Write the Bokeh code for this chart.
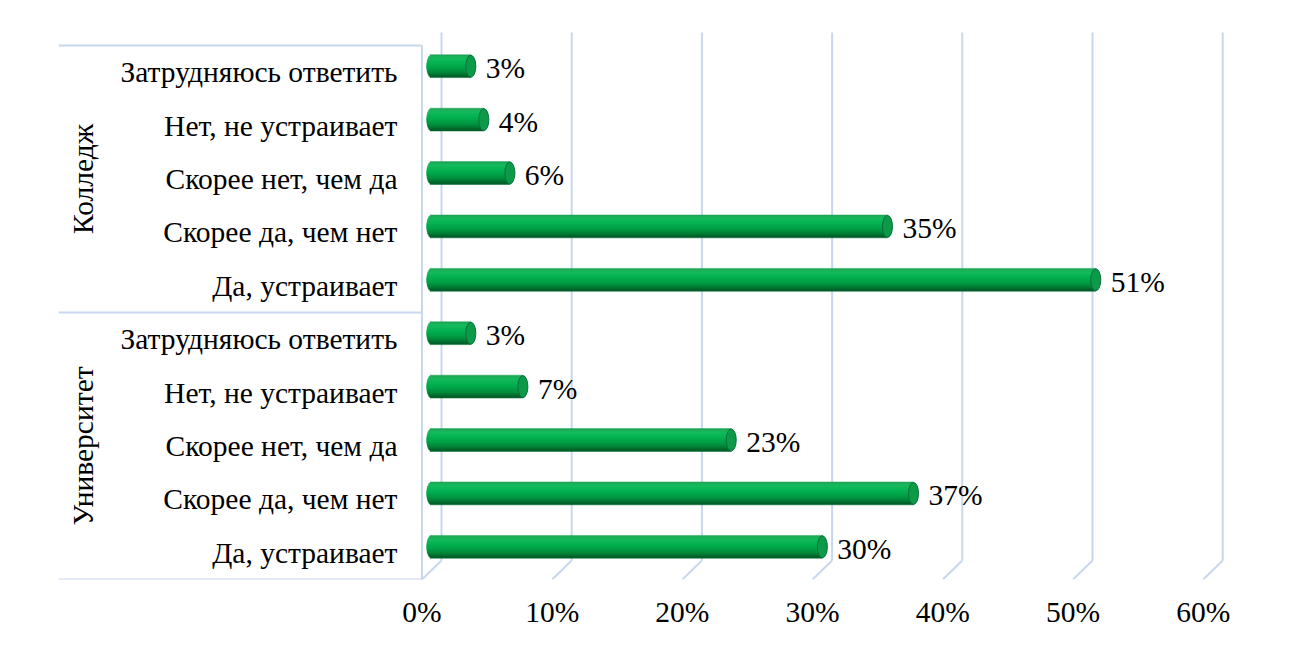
import math
from bokeh.plotting import figure
from bokeh.models import Range1d, FixedTicker, ColumnDataSource
from bokeh.core.properties import value
from bokeh.embed import file_html
from bokeh.resources import INLINE

# ---------------- data ----------------
groups = ["Университет", "Колледж"]          # bottom group first
categories = ["Да, устраивает", "Скорее да, чем нет", "Скорее нет, чем да",
              "Нет, не устраивает", "Затрудняюсь ответить"]   # bottom to top inside a group
university = [30, 37, 23, 7, 3]
college = [51, 35, 6, 4, 3]
tick_values = [0, 10, 20, 30, 40, 50, 60]
tick_labels = ["0%", "10%", "20%", "30%", "40%", "50%", "60%"]

# ---------------- layout constants ----------------
W, H = 1284, 641
LEFT_B, BOTTOM_B = 58, 62
PX_X = 13.02          # pixels per percent
PX_Y = 53.4           # pixels per category row
ZERO_PX = 363.5       # front-plane 0% from frame left, px
x_start = -ZERO_PX / PX_X
x_end = x_start + (W - LEFT_B) / PX_X
y_end = (H - BOTTOM_B) / PX_Y
DX = 19.5 / PX_X      # 3D depth in x units
DY = 19.0 / PX_Y      # 3D depth in y units
GRID_TOP = y_end - 32 / PX_Y
BAR_H = 22 / PX_Y
RX = 5 / PX_X
BAR_DY = 6 / PX_Y

FONT = "Liberation Serif"
FS = "29.5px"
GRID_C = "#c8d7ee"

p = figure(width=W, height=H, output_backend="svg", toolbar_location=None,
           x_range=Range1d(x_start, x_end), y_range=Range1d(0, y_end),
           y_axis_location=None, min_border_left=LEFT_B, min_border_right=0,
           min_border_top=0, min_border_bottom=BOTTOM_B)
p.outline_line_color = None
p.xgrid.visible = False
p.ygrid.visible = False
p.background_fill_color = "white"
p.border_fill_color = "white"

ax = p.xaxis[0]
ax.ticker = FixedTicker(ticks=tick_values)
ax.major_label_overrides = {v: l for v, l in zip(tick_values, tick_labels)}
ax.axis_line_color = None
ax.major_tick_line_color = None
ax.minor_tick_line_color = None
ax.major_tick_out = 0
ax.major_tick_in = 0
ax.major_label_standoff = 16
ax.major_label_text_font = FONT
ax.major_label_text_font_size = FS
ax.major_label_text_color = "black"

# ---------------- back wall grid (3D) ----------------
gx_v = [[t + DX, t + DX] for t in tick_values]
gy_v = [[DY, GRID_TOP] for t in tick_values]
gx_d = [[t + DX, t] for t in tick_values]
gy_d = [[DY, 0] for t in tick_values]
p.multi_line(gx_v + gx_d, gy_v + gy_d, line_color=GRID_C, line_width=2)

# ---------------- category frame lines ----------------
n = len(categories)
p.multi_line([[x_start, 0], [x_start, 0], [x_start, 0], [0, 0]],
             [[0, 0], [n, n], [2 * n, 2 * n], [0, 2 * n]],
             line_color=GRID_C, line_width=2)

# ---------------- bars (cylinders) ----------------
values = university + college
rows = [i + 0.5 for i in range(len(values))]

stops = [(-1.0, (0x22, 0xa0, 0x55)), (-0.65, (0x16, 0xbc, 0x5e)), (-0.2, (0x04, 0xb2, 0x52)),
         (0.3, (0x00, 0x9e, 0x46)), (0.7, (0x00, 0x80, 0x37)), (1.0, (0x00, 0x5a, 0x26))]


def grad(t):
    for (t0, c0), (t1, c1) in zip(stops[:-1], stops[1:]):
        if t <= t1:
            f = (t - t0) / (t1 - t0)
            c = [round(a + (b - a) * f) for a, b in zip(c0, c1)]
            return "#%02x%02x%02x" % tuple(c)
    return "#%02x%02x%02x" % stops[-1][1]


N = 16
ys, lefts, rights, hs, cols = [], [], [], [], []
for k in range(N):
    t = -1 + (2 * k + 1) / N
    for v, r in zip(values, rows):
        yc = r + BAR_DY
        ys.append(yc - t * BAR_H / 2)
        lefts.append(DX / 2 - RX * math.sqrt(max(0.0, 1 - t * t)))
        rights.append(v + DX / 2)
        hs.append(BAR_H / N * 1.6)
        cols.append(grad(t))
p.hbar(y="y", left="left", right="right", height="h", fill_color="c", line_color="c",
       line_width=0.5, source=ColumnDataSource(dict(y=ys, left=lefts, right=rights, h=hs, c=cols)))

cap_src = ColumnDataSource(dict(x=[v + DX / 2 for v in values], y=[r + BAR_DY for r in rows]))
p.ellipse(x="x", y="y", width=2 * RX, height=BAR_H, fill_color="#0c9a49",
          line_color="#06703a", line_width=1, source=cap_src)

# ---------------- data labels ----------------
lab_src = ColumnDataSource(dict(x=[v + DX / 2 for v in values], y=[r + BAR_DY for r in rows],
                                t=["%d%%" % v for v in values]))
p.text(x="x", y="y", text="t", source=lab_src, x_offset=15, y_offset=2, text_align="left",
       text_baseline="middle", text_font=value(FONT), text_font_size=FS, text_color="black")

# ---------------- category labels ----------------
cat_src = ColumnDataSource(dict(x=[-24.5 / PX_X] * len(rows), y=rows, t=categories * 2))
p.text(x="x", y="y", text="t", source=cat_src, text_align="right", text_baseline="middle",
       text_font=value(FONT), text_font_size=FS, text_color="black")

# ---------------- group labels ----------------
grp_src = ColumnDataSource(dict(x=[x_start + 24 / PX_X] * 2, y=[n / 2, n * 1.5], t=groups))
p.text(x="x", y="y", text="t", source=grp_src, angle=math.pi / 2, text_align="center",
       text_baseline="middle", text_font=value(FONT), text_font_size=FS, text_color="black")

open("out.html", "w").write(file_html(p, INLINE))
